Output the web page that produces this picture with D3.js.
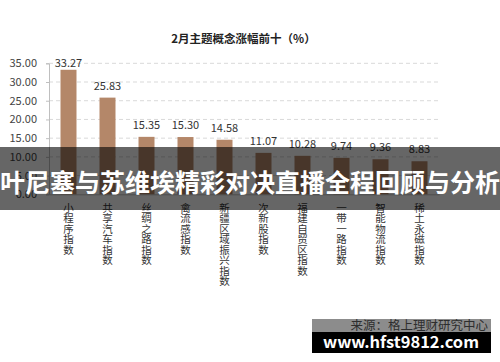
<!DOCTYPE html>
<html><head><meta charset="utf-8">
<script src="https://cdn.jsdelivr.net/npm/d3@7"></script>
<style>
html,body{margin:0;padding:0;background:#fff;}
svg{display:block;}
text{font-family:"Noto Sans CJK SC","Noto Sans",sans-serif;}
</style></head>
<body>
<script>
const categories = ["小程序指数","共享汽车指数","丝绸之路指数","禽流感指数","新疆区域振兴指数","次新股指数","福建自贸区指数","一带一路指数","智能物流指数","稀土永磁指数"];
const values = [33.27,25.83,15.35,15.30,14.58,11.07,10.28,9.74,9.36,8.83];
const yTicks = [0,5,10,15,20,25,30,35];
const title = "2月主题概念涨幅前十（%）";
const source = "来源：格上理财研究中心";
const bannerText = "叶尼塞与苏维埃精彩对决直播全程回顾与分析";
const siteText = "www.hfst9812.com";

const W = 500, H = 362;
const svg = d3.select("body").append("svg").attr("width", W).attr("height", H);

const x = d3.scaleBand().domain(categories).range([49, 439]).paddingInner(0.59).paddingOuter(0.295);
const y = d3.scaleLinear().domain([0, 35]).range([194.3, 63.3]);

// title
svg.append("text").attr("x", 243.5).attr("y", 43).attr("text-anchor", "middle")
  .attr("font-size", 11.5).attr("font-weight", "bold").attr("fill", "#222").text(title);

// gridlines
svg.append("g").selectAll("line").data(yTicks.filter(d => d > 0)).join("line")
  .attr("x1", 49).attr("x2", 439).attr("y1", d => y(d)).attr("y2", d => y(d))
  .attr("stroke", "#d9d9d9").attr("stroke-width", 1).attr("stroke-dasharray", "4,3");

// y axis
const yAxis = svg.append("g").attr("transform", "translate(49,0)")
  .call(d3.axisLeft(y).tickValues(yTicks).tickFormat(d3.format(".2f")).tickSize(3).tickPadding(9));
yAxis.select(".domain").attr("stroke", "#bfbfbf");
yAxis.selectAll(".tick line").attr("stroke", "#bfbfbf");
yAxis.selectAll("text").attr("font-size", 11).attr("fill", "#444")
  .attr("font-family", "'Open Sans','Noto Sans',sans-serif");

// x axis
const xAxis = svg.append("g").attr("transform", `translate(0,${y(0)})`)
  .call(d3.axisBottom(x).tickSize(0).tickFormat(""));
xAxis.select(".domain").attr("stroke", "#bfbfbf");

// bars
svg.append("g").selectAll("rect").data(values).join("rect")
  .attr("x", (d, i) => x(categories[i])).attr("width", x.bandwidth())
  .attr("y", d => y(d)).attr("height", d => y(0) - y(d))
  .attr("fill", "#b48769");

// value labels
svg.append("g").selectAll("text").data(values).join("text")
  .attr("x", (d, i) => x(categories[i]) + x.bandwidth() / 2)
  .attr("y", d => Math.max(y(d) - 8, y(35) + 4)).attr("text-anchor", "middle")
  .attr("font-size", 11).attr("fill", "#333")
  .attr("font-family", "'Open Sans','Noto Sans',sans-serif")
  .text(d => d.toFixed(2));

// category labels (vertical)
svg.append("g").selectAll("text").data(categories).join("text")
  .attr("x", c => x(c) + x.bandwidth() / 2).attr("y", 202.5)
  .attr("font-size", 10.5).attr("fill", "#333")
  .style("writing-mode", "vertical-rl").style("text-orientation", "upright")
  .text(c => c);

// source
svg.append("text").attr("x", 488).attr("y", 330).attr("text-anchor", "end")
  .attr("font-size", 12.5).attr("fill", "#555").text(source);

// banner overlay
svg.append("rect").attr("x", 0).attr("y", 147).attr("width", W).attr("height", 63)
  .attr("fill", "rgba(0,0,0,0.6)");
svg.append("text").attr("x", W / 2).attr("y", 192).attr("text-anchor", "middle")
  .attr("font-size", 25).attr("font-weight", "bold").attr("fill", "#fff")
  .attr("textLength", 500).attr("lengthAdjust", "spacingAndGlyphs").text(bannerText);

// bottom watermark
svg.append("rect").attr("x", 312).attr("y", 319).attr("width", 179).attr("height", 13)
  .attr("fill", "rgba(0,0,0,0.45)");
svg.append("rect").attr("x", 312).attr("y", 332).attr("width", 179).attr("height", 21)
  .attr("fill", "#000");
svg.append("text").attr("x", 323).attr("y", 347.5)
  .attr("font-size", 16).attr("font-weight", "bold").attr("fill", "#fff")
  .attr("font-family", "'DejaVu Sans','Open Sans',sans-serif")
  .attr("textLength", 156).attr("lengthAdjust", "spacingAndGlyphs").text(siteText);
</script>
</body></html>
